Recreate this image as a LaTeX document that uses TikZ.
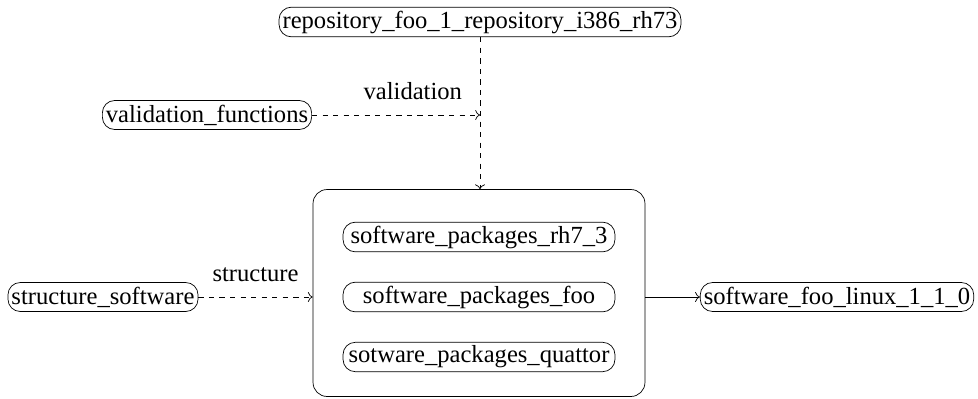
\documentclass[tikz,border=0pt]{standalone}
\usepackage{fontspec}
\setmainfont{Liberation Serif}
\usetikzlibrary{arrows.meta}

\tikzset{
    pkg/.style={draw, rounded corners=7pt, inner sep=2pt, minimum height=0.58cm, font=\fontsize{14}{16}\selectfont},
    dep/.style={-{To[scale=1.1]}, dashed},
    lbl/.style={font=\fontsize{14}{16}\selectfont}
}

\begin{document}
\begin{tikzpicture}[x=0.02cm, y=-0.02cm]
        \useasboundingbox (0, 0) rectangle (978, 399);

        \node[pkg] at (480, 22)   (repo) {repository\_foo\_1\_repository\_i386\_rh73};
        \node[pkg] at (207, 115)   (valf) {validation\_functions};
        \coordinate (jval) at (480, 115);

        \node[draw, rounded corners=8pt, minimum width=6.64cm, minimum height=4.14cm] at (479, 293)   (pkgs) {};
        \node[pkg, minimum width=5.44cm] at (479, 237)   (rh) {software\_packages\_rh7\_3};
        \node[pkg, minimum width=5.44cm] at (479, 297)   (foo) {software\_packages\_foo};
        \node[pkg, minimum width=5.44cm] at (479, 357)   (qt) {sotware\_packages\_quattor};

        \node[pkg] at (103, 297)   (strs) {structure\_software};
        \node[pkg] at (837, 297)   (out) {software\_foo\_linux\_1\_1\_0};
        \coordinate (jstr) at (pkgs.west |- strs);

        \draw [dep] (repo) -- (repo |- pkgs.north);
        \draw [dep] (valf) -- node[lbl, above=5pt, pos=0.6] {validation} (jval);
        \draw [dep] (strs) -- node[lbl, above=5pt] {structure} (jstr);
        \draw [-{To[scale=1.1]}] (pkgs.east |- out) -- (out);
    \end{tikzpicture}
\end{document}
